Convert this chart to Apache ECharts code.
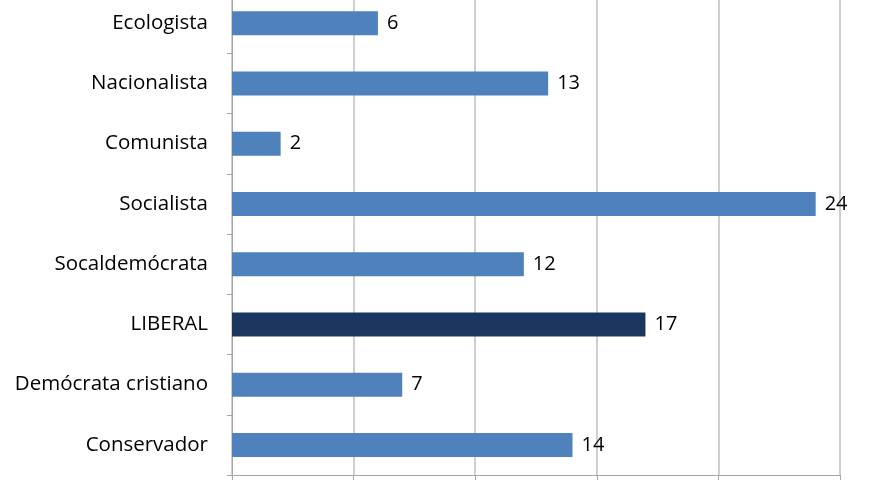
<!DOCTYPE html>
<html>
<head>
<meta charset="utf-8">
<script src="https://cdn.jsdelivr.net/npm/echarts@6/dist/echarts.min.js"></script>
<style>
html,body{margin:0;padding:0;background:#fff;overflow:hidden;}
#c{width:880px;height:502px;margin-top:-7px;}
</style>
</head>
<body>
<div id="c"></div>
<script>
var categories = ['Conservador', 'Demócrata cristiano', 'LIBERAL', 'Socaldemócrata', 'Socialista', 'Comunista', 'Nacionalista', 'Ecologista'];
var values = [14, 7, 17, 12, 24, 2, 13, 6];
var highlight = 'LIBERAL';
var xTicks = [0, 5, 10, 15, 20, 25];

var chart = echarts.init(document.getElementById('c'), null, {renderer: 'canvas'});
var FONT = 'Open Sans';
chart.setOption({
  animation: false,
  backgroundColor: '#ffffff',
  grid: {left: 232, right: 40, top: 0, bottom: 20, containLabel: false},
  xAxis: {
    type: 'value',
    min: xTicks[0],
    max: xTicks[xTicks.length - 1],
    interval: xTicks[1] - xTicks[0],
    axisLine: {show: true, lineStyle: {color: '#a6a6a6', width: 1}},
    axisTick: {show: true, length: 5, lineStyle: {color: '#a6a6a6'}},
    axisLabel: {show: false},
    splitLine: {show: true, lineStyle: {color: '#bfbfbf', width: 1.5}}
  },
  yAxis: {
    type: 'category',
    data: categories,
    axisLine: {show: true, lineStyle: {color: '#a6a6a6', width: 1}},
    axisTick: {show: true, length: 5, lineStyle: {color: '#a6a6a6'}},
    axisLabel: {color: '#000', fontFamily: FONT, fontSize: 20.5, margin: 24},
    splitLine: {show: false}
  },
  series: [{
    type: 'bar',
    barWidth: 24,
    data: values.map(function (v, i) {
      return {value: v, itemStyle: {color: categories[i] === highlight ? '#1b365e' : '#4f81bd'}};
    }),
    label: {show: true, position: 'right', distance: 9, color: '#000', fontFamily: FONT, fontSize: 20}
  }]
});
</script>
</body>
</html>
